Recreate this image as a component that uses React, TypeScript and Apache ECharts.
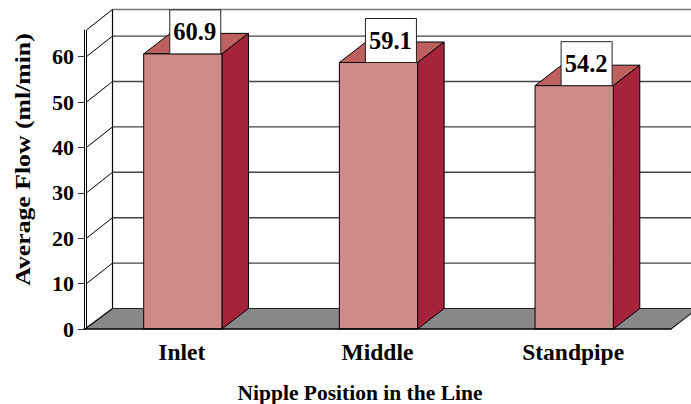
import React, { useEffect, useRef } from "react";
import * as echarts from "echarts";

const categories = ["Inlet", "Middle", "Standpipe"];
const barHeights = [60.6, 58.7, 53.6];
const valueLabels = ["60.9", "59.1", "54.2"];
const tickValues = [0, 10, 20, 30, 40, 50, 60];
const wallLevels = [10, 20, 30, 40, 50, 60];
const axisMax = 65.86;
const xTitle = "Nipple Position in the Line";
const yTitle = "Average Flow (ml/min)";

const FONT = '"Liberation Serif", "Times New Roman", serif';
const DX = 26.5;
const DY = -20.5;

export default function App() {
  const ref = useRef<HTMLDivElement>(null);
  useEffect(() => {
    document.body.style.margin = "0";
    const chart = echarts.init(ref.current!, undefined, { renderer: "svg" });

    const renderWall = (params: any, api: any) => {
      const cs = params.coordSys;
      const v = api.value(0);
      const y = api.coord([0, v])[1];
      const x0 = cs.x + 2.5;
      const x1 = cs.x + DX + 2;
      const xr = cs.x + cs.width + DX;
      const isTop = v >= axisMax;
      const children: any[] = [
        { type: "line", shape: { x1, y1: y + DY, x2: xr, y2: y + DY }, style: { stroke: isTop ? "#777" : "#444", lineWidth: 1.4 } },
        { type: "line", shape: { x1: x0, y1: y, x2: x1, y2: y + DY }, style: { stroke: "#000", lineWidth: 1 } },
      ];
      if (isTop) {
        children.push({ type: "line", shape: { x1, y1: y + DY, x2: x1, y2: cs.y + cs.height + DY }, style: { stroke: "#000", lineWidth: 1.2 } });
        children.push({ type: "line", shape: { x1: x0, y1: y, x2: x0, y2: cs.y + cs.height }, style: { stroke: "#000", lineWidth: 1 } });
      }
      return { type: "group", children };
    };

    const renderFloor = (params: any, api: any) => {
      const cs = params.coordSys;
      const yb = api.coord([0, 0])[1];
      const xl = cs.x + 1;
      const xr = cs.x + cs.width;
      const pts = [[xl, yb], [xl + DX + 1, yb + DY], [xr + DX, yb + DY], [xr, yb]];
      return {
        type: "group",
        children: [
          { type: "polygon", shape: { points: pts }, style: { fill: "#888888", stroke: "none" } },
          { type: "line", shape: { x1: xl + DX + 1, y1: yb + DY, x2: xr + DX, y2: yb + DY }, style: { stroke: "#222", lineWidth: 1.2 } },
          { type: "line", shape: { x1: xl, y1: yb, x2: xl + DX + 1, y2: yb + DY }, style: { stroke: "#000", lineWidth: 1.2 } },
          { type: "line", shape: { x1: xr, y1: yb, x2: xr + DX, y2: yb + DY }, style: { stroke: "#222", lineWidth: 1.2 } },
        ],
      };
    };

    const renderBar = (_params: any, api: any) => {
      const i = api.value(0);
      const [cx0, top] = api.coord([i, api.value(1)]);
      const cx = cx0 + 1;
      const base = api.coord([i, 0])[1];
      const w = api.size([1, 0])[0] * 0.4;
      const l = cx - w / 2;
      const r = cx + w / 2;
      const line = { stroke: "#000", lineWidth: 1, lineJoin: "miter" };
      const boxW = 51;
      const boxH = 44;
      const boxX = r - 1.2 - boxW;
      return {
        type: "group",
        children: [
          { type: "polygon", shape: { points: [[l, top], [l + DX, top + DY], [r + DX, top + DY], [r, top]] }, style: { fill: "#BE5F60", ...line } },
          { type: "polygon", shape: { points: [[r, top], [r + DX, top + DY], [r + DX, base + DY], [r, base]] }, style: { fill: "#A6233C", ...line } },
          { type: "rect", shape: { x: l, y: top, width: w, height: base - top }, style: { fill: "#D18A8A", ...line } },
          { type: "rect", shape: { x: boxX, y: top - boxH, width: boxW, height: boxH }, style: { fill: "#fff", stroke: "#222", lineWidth: 1 } },
          {
            type: "text",
            x: boxX + boxW / 2 - 0.5,
            y: top - boxH / 2,
            style: {
              text: valueLabels[i],
              font: `bold 24.5px ${FONT}`,
              fill: "#000",
              align: "center",
              verticalAlign: "middle",
            },
          },
        ],
      };
    };

    chart.setOption({
      animation: false,
      backgroundColor: "#fff",
      grid: { left: 84, right: 20, top: 30, bottom: 75, containLabel: false },
      xAxis: {
        type: "category",
        data: categories,
        z: 5,
        axisLine: { lineStyle: { color: "#000", width: 1.5 } },
        axisTick: { length: 5, lineStyle: { color: "#333", width: 1 }, alignWithLabel: false },
        axisLabel: { color: "#000", margin: 11, fontFamily: FONT, fontWeight: "bold", fontSize: 23.5 },
        splitLine: { show: false },
      },
      yAxis: {
        type: "value",
        min: 0,
        max: axisMax,
        interval: 10,
        z: 5,
        axisLine: { show: true, lineStyle: { color: "#000", width: 1 } },
        axisTick: { show: true, length: 6, lineStyle: { color: "#333", width: 1 }, customValues: tickValues },
        axisLabel: { color: "#000", margin: 10, fontFamily: FONT, fontWeight: "bold", fontSize: 22, customValues: tickValues },
        splitLine: { show: false },
      },
      graphic: [
        {
          type: "text",
          x: 360,
          y: 393,
          style: { text: xTitle, font: `bold 21.5px ${FONT}`, fill: "#000", align: "center", verticalAlign: "middle" },
        },
        {
          type: "text",
          x: 23,
          y: 159.5,
          rotation: Math.PI / 2,
          scaleX: 1.17,
          style: { text: yTitle, font: `bold 22px ${FONT}`, fill: "#000", align: "center", verticalAlign: "middle" },
        },
      ],
      series: [
        { type: "custom", name: "wall", z: 1, silent: true, renderItem: renderWall, encode: { y: 0 }, data: [...wallLevels, axisMax].map((v) => [v]) },
        { type: "custom", name: "floor", z: 2, silent: true, renderItem: renderFloor, encode: { y: 0 }, data: [[0]] },
        { type: "custom", name: "Average Flow", z: 3, renderItem: renderBar, encode: { x: 0, y: 1 }, data: barHeights.map((v, i) => [i, v]) },
      ],
    });
    return () => chart.dispose();
  }, []);
  return <div ref={ref} style={{ width: 691, height: 404 }} />;
}
